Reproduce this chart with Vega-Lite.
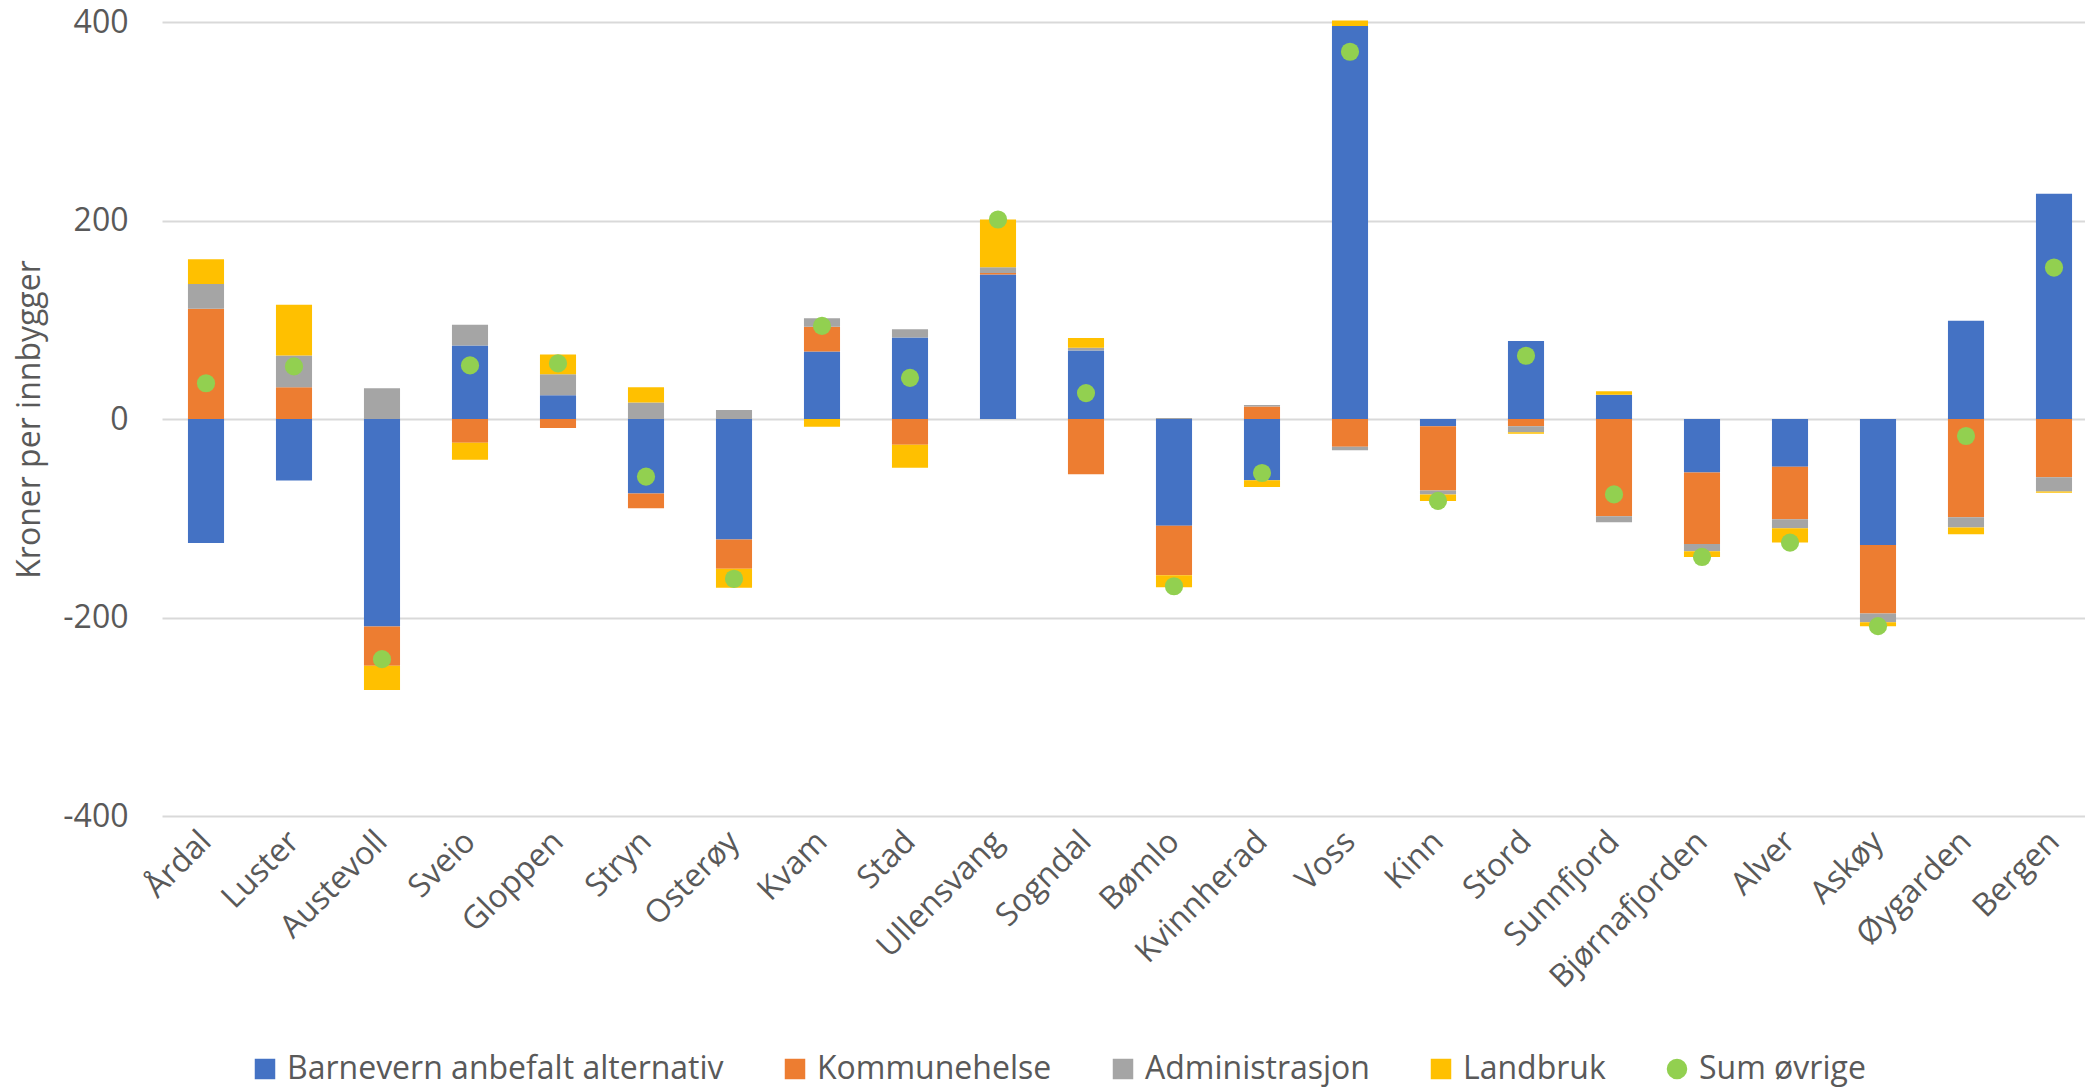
{
  "$schema": "https://vega.github.io/schema/vega-lite/v6.json",
  "autosize": "none",
  "width": 1923,
  "height": 794,
  "padding": {"left": 162, "top": 22, "right": 0, "bottom": 272},
  "background": "white",
  "config": {"view": {"stroke": null}, "font": "Open Sans"},
  "datasets": {
    "stabler": [
      {"kommune": "Årdal", "serie": "Barnevern anbefalt alternativ", "nr": 1, "verdi": -125},
      {"kommune": "Årdal", "serie": "Kommunehelse", "nr": 2, "verdi": 111},
      {"kommune": "Årdal", "serie": "Administrasjon", "nr": 3, "verdi": 25},
      {"kommune": "Årdal", "serie": "Landbruk", "nr": 4, "verdi": 25},
      {"kommune": "Luster", "serie": "Barnevern anbefalt alternativ", "nr": 1, "verdi": -62},
      {"kommune": "Luster", "serie": "Kommunehelse", "nr": 2, "verdi": 32},
      {"kommune": "Luster", "serie": "Administrasjon", "nr": 3, "verdi": 32},
      {"kommune": "Luster", "serie": "Landbruk", "nr": 4, "verdi": 51},
      {"kommune": "Austevoll", "serie": "Barnevern anbefalt alternativ", "nr": 1, "verdi": -209},
      {"kommune": "Austevoll", "serie": "Kommunehelse", "nr": 2, "verdi": -39.5},
      {"kommune": "Austevoll", "serie": "Administrasjon", "nr": 3, "verdi": 31},
      {"kommune": "Austevoll", "serie": "Landbruk", "nr": 4, "verdi": -24.5},
      {"kommune": "Sveio", "serie": "Barnevern anbefalt alternativ", "nr": 1, "verdi": 74},
      {"kommune": "Sveio", "serie": "Kommunehelse", "nr": 2, "verdi": -24},
      {"kommune": "Sveio", "serie": "Administrasjon", "nr": 3, "verdi": 21},
      {"kommune": "Sveio", "serie": "Landbruk", "nr": 4, "verdi": -17},
      {"kommune": "Gloppen", "serie": "Barnevern anbefalt alternativ", "nr": 1, "verdi": 24},
      {"kommune": "Gloppen", "serie": "Kommunehelse", "nr": 2, "verdi": -9},
      {"kommune": "Gloppen", "serie": "Administrasjon", "nr": 3, "verdi": 21},
      {"kommune": "Gloppen", "serie": "Landbruk", "nr": 4, "verdi": 20},
      {"kommune": "Stryn", "serie": "Barnevern anbefalt alternativ", "nr": 1, "verdi": -75},
      {"kommune": "Stryn", "serie": "Kommunehelse", "nr": 2, "verdi": -15},
      {"kommune": "Stryn", "serie": "Administrasjon", "nr": 3, "verdi": 16.5},
      {"kommune": "Stryn", "serie": "Landbruk", "nr": 4, "verdi": 15.5},
      {"kommune": "Osterøy", "serie": "Barnevern anbefalt alternativ", "nr": 1, "verdi": -121.5},
      {"kommune": "Osterøy", "serie": "Kommunehelse", "nr": 2, "verdi": -29.5},
      {"kommune": "Osterøy", "serie": "Administrasjon", "nr": 3, "verdi": 9},
      {"kommune": "Osterøy", "serie": "Landbruk", "nr": 4, "verdi": -19},
      {"kommune": "Kvam", "serie": "Barnevern anbefalt alternativ", "nr": 1, "verdi": 68},
      {"kommune": "Kvam", "serie": "Kommunehelse", "nr": 2, "verdi": 25},
      {"kommune": "Kvam", "serie": "Administrasjon", "nr": 3, "verdi": 8.5},
      {"kommune": "Kvam", "serie": "Landbruk", "nr": 4, "verdi": -7.7},
      {"kommune": "Stad", "serie": "Barnevern anbefalt alternativ", "nr": 1, "verdi": 82},
      {"kommune": "Stad", "serie": "Kommunehelse", "nr": 2, "verdi": -26},
      {"kommune": "Stad", "serie": "Administrasjon", "nr": 3, "verdi": 8.5},
      {"kommune": "Stad", "serie": "Landbruk", "nr": 4, "verdi": -23},
      {"kommune": "Ullensvang", "serie": "Barnevern anbefalt alternativ", "nr": 1, "verdi": 145.5},
      {"kommune": "Ullensvang", "serie": "Kommunehelse", "nr": 2, "verdi": 1.7},
      {"kommune": "Ullensvang", "serie": "Administrasjon", "nr": 3, "verdi": 5.7},
      {"kommune": "Ullensvang", "serie": "Landbruk", "nr": 4, "verdi": 48},
      {"kommune": "Sogndal", "serie": "Barnevern anbefalt alternativ", "nr": 1, "verdi": 69},
      {"kommune": "Sogndal", "serie": "Kommunehelse", "nr": 2, "verdi": -55.6},
      {"kommune": "Sogndal", "serie": "Administrasjon", "nr": 3, "verdi": 2.7},
      {"kommune": "Sogndal", "serie": "Landbruk", "nr": 4, "verdi": 10},
      {"kommune": "Bømlo", "serie": "Barnevern anbefalt alternativ", "nr": 1, "verdi": -107.5},
      {"kommune": "Bømlo", "serie": "Kommunehelse", "nr": 2, "verdi": -50},
      {"kommune": "Bømlo", "serie": "Administrasjon", "nr": 3, "verdi": 1},
      {"kommune": "Bømlo", "serie": "Landbruk", "nr": 4, "verdi": -12},
      {"kommune": "Kvinnherad", "serie": "Barnevern anbefalt alternativ", "nr": 1, "verdi": -61.6},
      {"kommune": "Kvinnherad", "serie": "Kommunehelse", "nr": 2, "verdi": 12.5},
      {"kommune": "Kvinnherad", "serie": "Administrasjon", "nr": 3, "verdi": 1.7},
      {"kommune": "Kvinnherad", "serie": "Landbruk", "nr": 4, "verdi": -7},
      {"kommune": "Voss", "serie": "Barnevern anbefalt alternativ", "nr": 1, "verdi": 396},
      {"kommune": "Voss", "serie": "Kommunehelse", "nr": 2, "verdi": -28},
      {"kommune": "Voss", "serie": "Administrasjon", "nr": 3, "verdi": -3.5},
      {"kommune": "Voss", "serie": "Landbruk", "nr": 4, "verdi": 5.5},
      {"kommune": "Kinn", "serie": "Barnevern anbefalt alternativ", "nr": 1, "verdi": -7.4},
      {"kommune": "Kinn", "serie": "Kommunehelse", "nr": 2, "verdi": -64.7},
      {"kommune": "Kinn", "serie": "Administrasjon", "nr": 3, "verdi": -4},
      {"kommune": "Kinn", "serie": "Landbruk", "nr": 4, "verdi": -6.4},
      {"kommune": "Stord", "serie": "Barnevern anbefalt alternativ", "nr": 1, "verdi": 78.5},
      {"kommune": "Stord", "serie": "Kommunehelse", "nr": 2, "verdi": -7.4},
      {"kommune": "Stord", "serie": "Administrasjon", "nr": 3, "verdi": -6},
      {"kommune": "Stord", "serie": "Landbruk", "nr": 4, "verdi": -1.4},
      {"kommune": "Sunnfjord", "serie": "Barnevern anbefalt alternativ", "nr": 1, "verdi": 24.5},
      {"kommune": "Sunnfjord", "serie": "Kommunehelse", "nr": 2, "verdi": -98},
      {"kommune": "Sunnfjord", "serie": "Administrasjon", "nr": 3, "verdi": -6},
      {"kommune": "Sunnfjord", "serie": "Landbruk", "nr": 4, "verdi": 3.5},
      {"kommune": "Bjørnafjorden", "serie": "Barnevern anbefalt alternativ", "nr": 1, "verdi": -54},
      {"kommune": "Bjørnafjorden", "serie": "Kommunehelse", "nr": 2, "verdi": -72},
      {"kommune": "Bjørnafjorden", "serie": "Administrasjon", "nr": 3, "verdi": -7.3},
      {"kommune": "Bjørnafjorden", "serie": "Landbruk", "nr": 4, "verdi": -5.7},
      {"kommune": "Alver", "serie": "Barnevern anbefalt alternativ", "nr": 1, "verdi": -48},
      {"kommune": "Alver", "serie": "Kommunehelse", "nr": 2, "verdi": -53},
      {"kommune": "Alver", "serie": "Administrasjon", "nr": 3, "verdi": -9},
      {"kommune": "Alver", "serie": "Landbruk", "nr": 4, "verdi": -14.5},
      {"kommune": "Askøy", "serie": "Barnevern anbefalt alternativ", "nr": 1, "verdi": -127},
      {"kommune": "Askøy", "serie": "Kommunehelse", "nr": 2, "verdi": -69},
      {"kommune": "Askøy", "serie": "Administrasjon", "nr": 3, "verdi": -8.7},
      {"kommune": "Askøy", "serie": "Landbruk", "nr": 4, "verdi": -4},
      {"kommune": "Øygarden", "serie": "Barnevern anbefalt alternativ", "nr": 1, "verdi": 99},
      {"kommune": "Øygarden", "serie": "Kommunehelse", "nr": 2, "verdi": -99},
      {"kommune": "Øygarden", "serie": "Administrasjon", "nr": 3, "verdi": -10.4},
      {"kommune": "Øygarden", "serie": "Landbruk", "nr": 4, "verdi": -6.7},
      {"kommune": "Bergen", "serie": "Barnevern anbefalt alternativ", "nr": 1, "verdi": 227},
      {"kommune": "Bergen", "serie": "Kommunehelse", "nr": 2, "verdi": -58.6},
      {"kommune": "Bergen", "serie": "Administrasjon", "nr": 3, "verdi": -14.4},
      {"kommune": "Bergen", "serie": "Landbruk", "nr": 4, "verdi": -1.4}
    ],
    "sum": [
      {"kommune": "Årdal", "serie": "Sum øvrige", "verdi": 36},
      {"kommune": "Luster", "serie": "Sum øvrige", "verdi": 53},
      {"kommune": "Austevoll", "serie": "Sum øvrige", "verdi": -242},
      {"kommune": "Sveio", "serie": "Sum øvrige", "verdi": 54},
      {"kommune": "Gloppen", "serie": "Sum øvrige", "verdi": 56},
      {"kommune": "Stryn", "serie": "Sum øvrige", "verdi": -58},
      {"kommune": "Osterøy", "serie": "Sum øvrige", "verdi": -161},
      {"kommune": "Kvam", "serie": "Sum øvrige", "verdi": 93.8},
      {"kommune": "Stad", "serie": "Sum øvrige", "verdi": 41.5},
      {"kommune": "Ullensvang", "serie": "Sum øvrige", "verdi": 201},
      {"kommune": "Sogndal", "serie": "Sum øvrige", "verdi": 26.1},
      {"kommune": "Bømlo", "serie": "Sum øvrige", "verdi": -168.5},
      {"kommune": "Kvinnherad", "serie": "Sum øvrige", "verdi": -54.4},
      {"kommune": "Voss", "serie": "Sum øvrige", "verdi": 370},
      {"kommune": "Kinn", "serie": "Sum øvrige", "verdi": -82.5},
      {"kommune": "Stord", "serie": "Sum øvrige", "verdi": 63.7},
      {"kommune": "Sunnfjord", "serie": "Sum øvrige", "verdi": -76},
      {"kommune": "Bjørnafjorden", "serie": "Sum øvrige", "verdi": -139},
      {"kommune": "Alver", "serie": "Sum øvrige", "verdi": -124.5},
      {"kommune": "Askøy", "serie": "Sum øvrige", "verdi": -208.7},
      {"kommune": "Øygarden", "serie": "Sum øvrige", "verdi": -17.1},
      {"kommune": "Bergen", "serie": "Sum øvrige", "verdi": 152.6}
    ]
  },
  "layer": [
    {
      "data": {"name": "stabler"},
      "mark": {"type": "bar"},
      "encoding": {
        "x": {
          "field": "kommune", "type": "nominal", "sort": null,
          "scale": {"paddingInner": 0.59, "paddingOuter": 0.295, "range": [0, 1936]},
          "axis": {
            "title": null, "domain": false, "ticks": false, "grid": false,
            "labelAngle": -45, "labelAlign": "right", "labelBaseline": "middle",
            "labelPadding": 20, "labelFontSize": 32, "labelColor": "#595959",
            "labelOverlap": false, "labelBound": false, "labelLimit": 0
          }
        },
        "y": {
          "field": "verdi", "type": "quantitative", "stack": "zero",
          "scale": {"domain": [-400, 400], "nice": false, "zero": true},
          "axis": {
            "values": [-400, -200, 0, 200, 400],
            "labelExpr": "'' + datum.value",
            "domain": false, "ticks": false, "grid": true,
            "gridColor": "#D9D9D9", "gridWidth": 2,
            "labelFontSize": 32, "labelColor": "#595959", "labelPadding": 34,
            "title": "Kroner per innbygger", "titleFontSize": 32, "titleColor": "#595959",
            "titleFontWeight": "normal", "titleX": -133, "titleY": 397,
            "titleAngle": -90, "titleAlign": "center", "titleBaseline": "middle"
          }
        },
        "color": {
          "field": "serie", "type": "nominal",
          "scale": {
            "domain": ["Barnevern anbefalt alternativ", "Kommunehelse", "Administrasjon", "Landbruk", "Sum øvrige"],
            "range": ["#4472C4", "#ED7D31", "#A5A5A5", "#FFC000", "#92D050"]
          },
          "legend": {
            "orient": "none", "legendX": 87, "legendY": 1031, "direction": "horizontal",
            "title": null, "labelFontSize": 32, "labelColor": "#595959",
            "symbolSize": 420, "symbolStrokeWidth": 0, "columnPadding": 55,
            "labelOffset": 6, "labelLimit": 0
          }
        },
        "order": {"field": "nr", "type": "quantitative"}
      }
    },
    {
      "data": {"name": "sum"},
      "mark": {"type": "point", "filled": true, "opacity": 1, "size": 330},
      "encoding": {
        "x": {"field": "kommune", "type": "nominal", "sort": null},
        "y": {"field": "verdi", "type": "quantitative"},
        "color": {"field": "serie", "type": "nominal"},
        "shape": {
          "field": "serie", "type": "nominal",
          "scale": {
            "domain": ["Barnevern anbefalt alternativ", "Kommunehelse", "Administrasjon", "Landbruk", "Sum øvrige"],
            "range": ["square", "square", "square", "square", "circle"]
          },
          "legend": {
            "orient": "none", "legendX": 87, "legendY": 1031, "direction": "horizontal",
            "title": null, "labelFontSize": 32, "labelColor": "#595959",
            "symbolSize": 420, "symbolStrokeWidth": 0, "columnPadding": 55,
            "labelOffset": 6, "labelLimit": 0
          }
        }
      }
    }
  ]
}
